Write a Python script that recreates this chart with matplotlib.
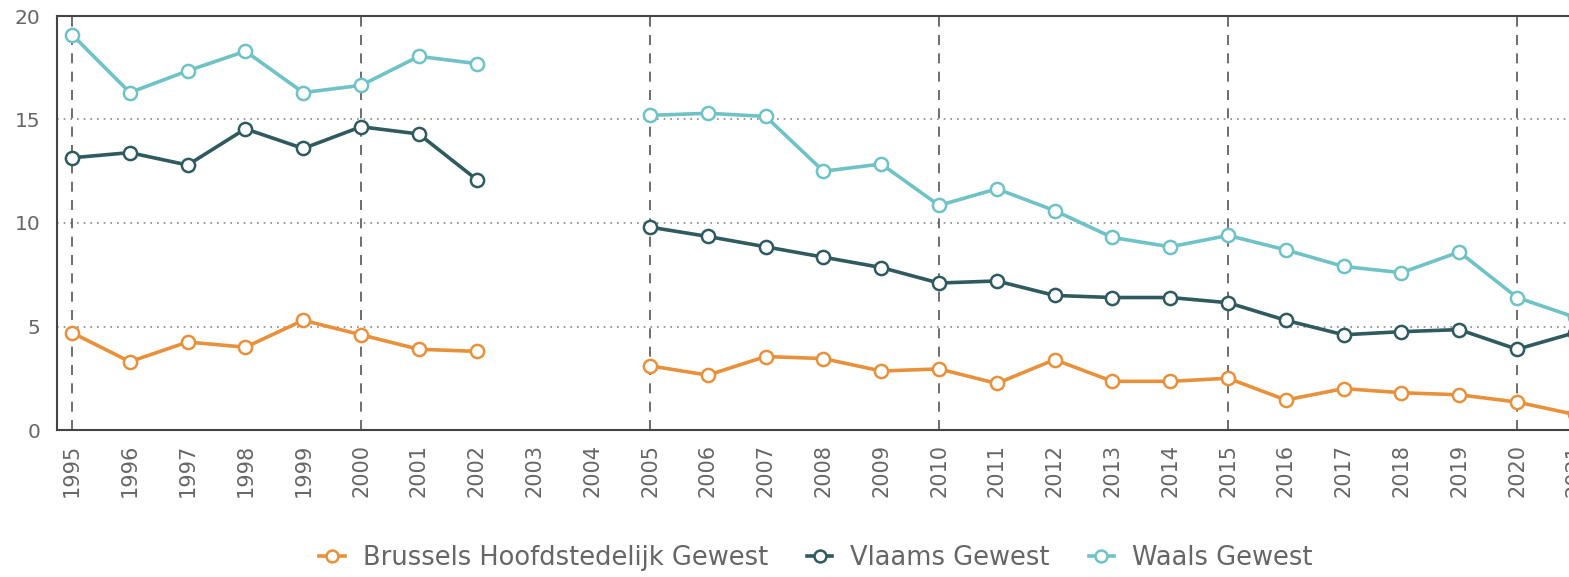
import numpy as np
import matplotlib.pyplot as plt

# years 1995-2021, no data for 2003 and 2004
years = np.arange(1995, 2022)

brussel = [4.7, 3.3, 4.25, 4.0, 5.3, 4.6, 3.9, 3.8, np.nan, np.nan,
           3.1, 2.65, 3.55, 3.45, 2.85, 2.95, 2.25, 3.4,
           2.35, 2.35, 2.5, 1.45, 2.0, 1.8, 1.7, 1.35, 0.75]
vlaams = [13.15, 13.4, 12.8, 14.55, 13.6, 14.65, 14.3, 12.1, np.nan, np.nan,
          9.8, 9.35, 8.85, 8.35, 7.85, 7.1, 7.2, 6.5,
          6.4, 6.4, 6.15, 5.3, 4.6, 4.75, 4.85, 3.9, 4.7]
waals = [19.1, 16.3, 17.35, 18.3, 16.3, 16.65, 18.05, 17.7, np.nan, np.nan,
         15.2, 15.3, 15.15, 12.5, 12.85, 10.85, 11.65, 10.6,
         9.3, 8.85, 9.4, 8.7, 7.9, 7.6, 8.6, 6.4, 5.45]

labels = ['Brussels Hoofdstedelijk Gewest', 'Vlaams Gewest', 'Waals Gewest']
colors = ['#e8913a', '#2f5a60', '#6fc3c6']

fig = plt.figure(figsize=(15.69, 5.77), dpi=100)
ax = fig.add_axes([57 / 1569, 147 / 577, 1 - 57 / 1569 + 0.01, 414 / 577])

for vals, lab, col in zip([brussel, vlaams, waals], labels, colors):
    ax.plot(years, vals, '-o', color=col, lw=2.6, label=lab,
            markersize=9.5, markerfacecolor='white', markeredgecolor=col,
            markeredgewidth=1.8, zorder=3)

ax.set_xlim(1994.74, 2021.17)
ax.set_ylim(0, 20)
ax.set_yticks([0, 5, 10, 15, 20])
ax.set_xticks(years)
ax.set_xticklabels([str(y) for y in years], rotation=90, fontsize=15,
                   color='#666666')
ax.tick_params(axis='y', length=0, pad=12, labelsize=14.5, labelcolor='#666666')
ax.tick_params(axis='x', length=0, pad=10)

# grid: dotted horizontal lines, dashed vertical lines every 5 years
for yv in [5, 10, 15]:
    ax.axhline(yv, color='#888888', lw=1.2, ls=(0, (1, 3)), zorder=1)
for xv in range(1995, 2022, 5):
    ax.axvline(xv, color='#555555', lw=1.2, ls=(0, (6, 5)), zorder=1)

for s in ['left', 'bottom', 'top']:
    ax.spines[s].set_color('#444444')
    ax.spines[s].set_linewidth(1.5)
ax.spines['right'].set_visible(False)

fig.legend(loc='center', bbox_to_anchor=(816 / 1569, 1 - 558 / 577), ncol=3,
           frameon=False, fontsize=18.5, labelcolor='#666666', handlelength=1.0,
           handletextpad=0.7, columnspacing=1.5, markerscale=0.9)

fig.savefig('out.png', dpi=100)
